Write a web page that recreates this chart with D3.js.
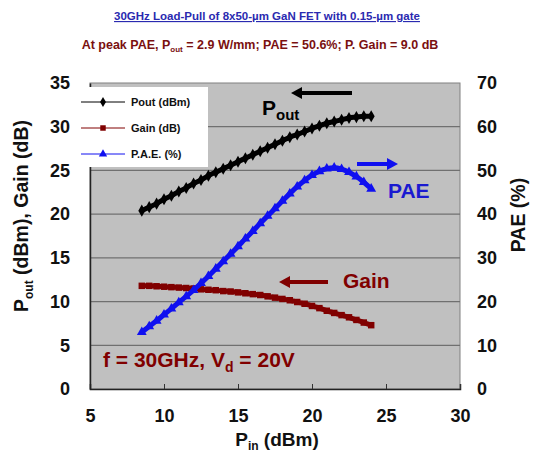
<!DOCTYPE html>
<html>
<head>
<meta charset="utf-8">
<script src="https://cdn.jsdelivr.net/npm/d3@7"></script>
<style>
html, body { margin: 0; padding: 0; background: #fff; overflow: hidden; }
svg { display: block; }
</style>
</head>
<body>
<svg width="533" height="453"></svg>
<script>
// data
const pin = [8.5, 9, 9.5, 10, 10.5, 11, 11.5, 12, 12.5, 13, 13.5, 14, 14.5, 15, 15.5, 16,
  16.5, 17, 17.5, 18, 18.5, 19, 19.5, 20, 20.5, 21, 21.5, 22, 22.5, 23, 23.5, 24];
const pout = [20.4, 20.8, 21.2, 21.7, 22.1, 22.6, 23.0, 23.5, 23.9, 24.4, 24.8, 25.2, 25.6, 26.0, 26.4, 26.8,
  27.2, 27.6, 28.0, 28.4, 28.8, 29.1, 29.45, 29.8, 30.1, 30.4, 30.6, 30.8, 31.0, 31.1, 31.2, 31.2];
const gain = [11.8, 11.8, 11.75, 11.7, 11.65, 11.6, 11.55, 11.5, 11.4, 11.35, 11.3, 11.2, 11.15, 11.05, 10.95, 10.85,
  10.75, 10.6, 10.45, 10.3, 10.15, 9.95, 9.75, 9.5, 9.25, 8.95, 8.7, 8.45, 8.2, 7.9, 7.6, 7.3];
const pae = [13.0, 14.3, 15.6, 17.0, 18.4, 19.8, 21.2, 22.6, 24.2, 25.8, 27.5, 29.2, 30.9, 32.6, 34.4, 36.1,
  37.9, 39.6, 41.3, 43.0, 44.7, 46.3, 47.7, 48.9, 49.8, 50.4, 50.6, 50.3, 49.6, 48.6, 47.3, 45.8];
const xTicks = [5, 10, 15, 20, 25, 30];
const yTicks = [0, 5, 10, 15, 20, 25, 30, 35];
const y2Ticks = [0, 10, 20, 30, 40, 50, 60, 70];
const legendNames = ['Pout (dBm)', 'Gain (dB)', 'P.A.E. (%)'];

const font = '"Liberation Sans", Arial, sans-serif';
const svg = d3.select('svg')
  .attr('font-family', font)
  .attr('font-weight', 'bold');
const margin = { top: 83, left: 90, right: 73, bottom: 64 },
  width = 533, height = 453,
  innerWidth = width - margin.left - margin.right,
  innerHeight = height - margin.top - margin.bottom;

const darkRed = '#800000', blue = '#1010f0';

const xScale = d3.scaleLinear().domain([5, 30]).range([0, innerWidth]);
const yScale = d3.scaleLinear().domain([0, 35]).range([innerHeight, 0]);
const y2Scale = d3.scaleLinear().domain([0, 70]).range([innerHeight, 0]);

// titles
svg.append('text')
  .attr('x', 267).attr('y', 20)
  .attr('text-anchor', 'middle')
  .attr('font-size', 11.5)
  .attr('fill', '#2a2ab0')
  .attr('text-decoration', 'underline')
  .text('30GHz Load-Pull  of 8x50-\u00b5m GaN  FET with 0.15-\u00b5m gate');

const t2 = svg.append('text')
  .attr('x', 260).attr('y', 49)
  .attr('text-anchor', 'middle')
  .attr('font-size', 12.5)
  .attr('fill', '#7a1010');
t2.append('tspan').text('At peak PAE, P');
t2.append('tspan').attr('font-size', 8).attr('dy', 3).text('out');
t2.append('tspan').attr('dy', -3).text(' = 2.9 W/mm; PAE = 50.6%; P. Gain = 9.0 dB');

const g = svg.append('g')
  .attr('transform', `translate(${margin.left}, ${margin.top})`);

g.append('rect')
  .attr('width', innerWidth).attr('height', innerHeight)
  .attr('fill', '#c0c0c0')
  .attr('stroke', '#808080');

// gridlines
g.selectAll('.grid')
  .data(yTicks.slice(1, -1))
  .enter().append('line')
  .attr('x1', 0).attr('x2', innerWidth)
  .attr('y1', d => yScale(d)).attr('y2', d => yScale(d))
  .attr('stroke', '#707070').attr('stroke-width', 1.3);

// axes
const styleTicks = sel => sel.selectAll('text')
  .attr('font-size', 18).attr('fill', '#111')
  .attr('font-family', font).attr('font-weight', 'bold');

const xAxis = d3.axisBottom(xScale).tickValues(xTicks).tickSize(-5).tickPadding(20);
const xAxisG = g.append('g').call(xAxis)
  .attr('transform', `translate(0, ${innerHeight})`);
xAxisG.select('.domain').attr('stroke', '#222').attr('stroke-width', 1.5);
xAxisG.selectAll('line').attr('stroke', '#333');
styleTicks(xAxisG);

const yAxis = d3.axisLeft(yScale).tickValues(yTicks).tickSize(0).tickPadding(20);
const yAxisG = g.append('g').call(yAxis);
yAxisG.select('.domain').attr('stroke', '#222').attr('stroke-width', 1.5);
styleTicks(yAxisG);

const y2Axis = d3.axisRight(y2Scale).tickValues(y2Ticks).tickSize(0).tickPadding(17);
const y2AxisG = g.append('g').call(y2Axis)
  .attr('transform', `translate(${innerWidth}, 0)`);
y2AxisG.select('.domain').remove();
styleTicks(y2AxisG);

// axis titles
const xt = svg.append('text')
  .attr('x', 277).attr('y', 446)
  .attr('text-anchor', 'middle')
  .attr('font-size', 19).attr('fill', '#111');
xt.append('tspan').text('P');
xt.append('tspan').attr('font-size', 12).attr('dy', 4).text('in');
xt.append('tspan').attr('dy', -4).text(' (dBm)');

const yt = svg.append('text')
  .attr('transform', 'translate(28, 216) rotate(-90)')
  .attr('text-anchor', 'middle')
  .attr('font-size', 19.5).attr('fill', '#111');
yt.append('tspan').text('P');
yt.append('tspan').attr('font-size', 12).attr('dy', 5).text('out');
yt.append('tspan').attr('dy', -5).text(' (dBm), Gain (dB)');

svg.append('text')
  .attr('transform', 'translate(525, 215) rotate(-90)')
  .attr('text-anchor', 'middle')
  .attr('font-size', 19.5).attr('fill', '#111')
  .text('PAE (%)');

// series
const series = [
  { values: pout, scale: yScale, color: '#000', shape: d3.symbolDiamond },
  { values: gain, scale: yScale, color: darkRed, shape: d3.symbolSquare },
  { values: pae, scale: y2Scale, color: blue, shape: d3.symbolTriangle }
];

series.forEach(s => {
  const line = d3.line()
    .x((d, i) => xScale(pin[i]))
    .y(d => s.scale(d))
    .curve(d3.curveMonotoneX);
  g.append('path')
    .attr('d', line(s.values))
    .attr('fill', 'none')
    .attr('stroke', s.color)
    .attr('stroke-width', 5);
  g.selectAll(null)
    .data(s.values)
    .enter().append('path')
    .attr('transform', (d, i) => `translate(${xScale(pin[i])}, ${s.scale(d)})`)
    .attr('d', d3.symbol().type(s.shape).size(42))
    .attr('fill', s.color);
});

// legend
const legend = svg.append('g').attr('transform', 'translate(71, 87)');
legend.append('rect')
  .attr('width', 137).attr('height', 80)
  .attr('fill', '#fff');
legendNames.forEach((name, i) => {
  const row = legend.append('g').attr('transform', `translate(0, ${15 + i * 26})`);
  row.append('line')
    .attr('x1', 10).attr('x2', 54)
    .attr('stroke', series[i].color).attr('stroke-width', 1);
  row.append('path')
    .attr('transform', 'translate(32, 0)')
    .attr('d', d3.symbol().type(series[i].shape).size(30))
    .attr('fill', series[i].color);
  row.append('text')
    .attr('x', 60).attr('y', 4)
    .attr('font-size', 11).attr('fill', '#111')
    .text(name);
});

// annotations
const arrow = (x1, x2, y, color) => {
  const dir = Math.sign(x2 - x1);
  g.append('line')
    .attr('x1', x1 - margin.left).attr('x2', x2 - margin.left - dir * 8)
    .attr('y1', y - margin.top).attr('y2', y - margin.top)
    .attr('stroke', color).attr('stroke-width', 4);
  g.append('path')
    .attr('d', `M${x2 - margin.left},${y - margin.top} l${-dir * 11},-6 l0,12 z`)
    .attr('fill', color);
};

const pl = svg.append('text').attr('x', 262).attr('y', 115)
  .attr('font-size', 21).attr('fill', '#000');
pl.append('tspan').text('P');
pl.append('tspan').attr('font-size', 15).attr('dy', 5).text('out');
arrow(352, 291, 93, '#000');

svg.append('text').attr('x', 388).attr('y', 198)
  .attr('font-size', 21).attr('fill', '#1a1ad0').text('PAE');
arrow(357, 398, 164, blue);

svg.append('text').attr('x', 343).attr('y', 288)
  .attr('font-size', 21).attr('fill', darkRed).text('Gain');
arrow(328, 279, 282, darkRed);

const fl = svg.append('text').attr('x', 103).attr('y', 367)
  .attr('font-size', 21).attr('fill', darkRed);
fl.append('tspan').text('f = 30GHz, V');
fl.append('tspan').attr('font-size', 14).attr('dy', 5).text('d');
fl.append('tspan').attr('dy', -5).text(' = 20V');
</script>
</body>
</html>
